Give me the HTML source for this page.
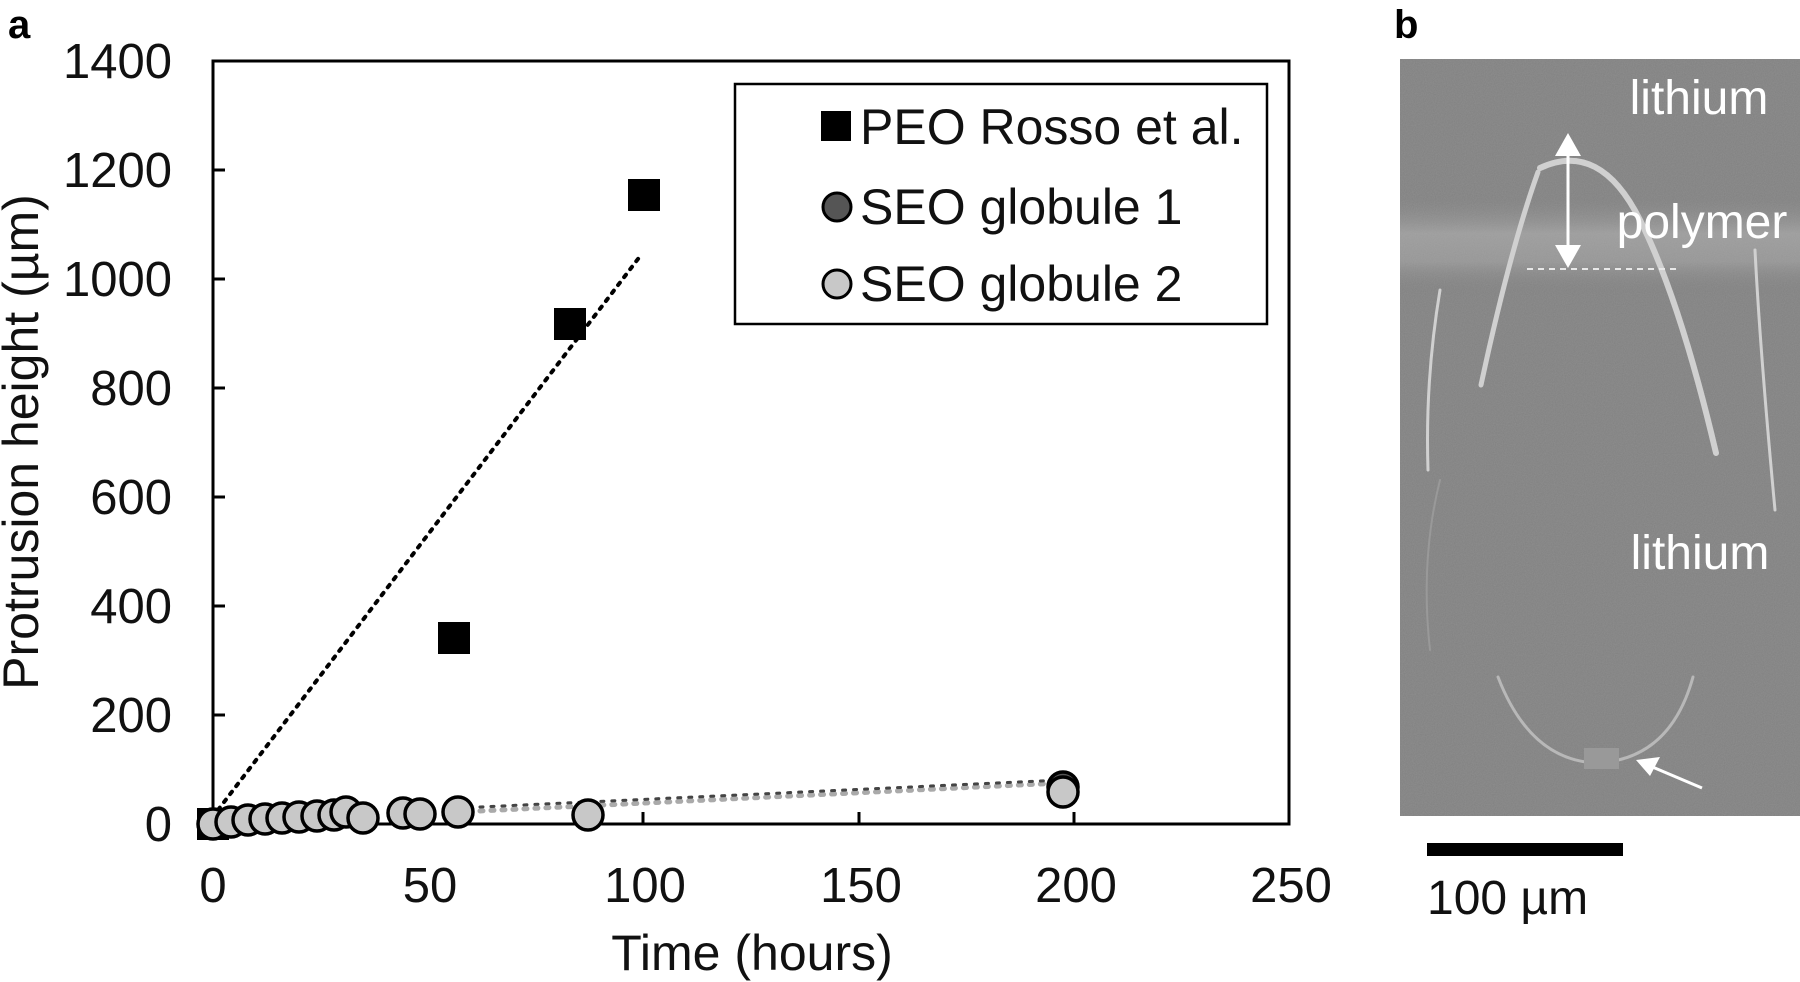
<!DOCTYPE html>
<html><head><meta charset="utf-8"><style>
html,body{margin:0;padding:0;background:#fff;}
svg{display:block;}
text{font-family:"Liberation Sans",sans-serif;}
</style></head><body>
<svg width="1800" height="982" viewBox="0 0 1800 982" xmlns="http://www.w3.org/2000/svg">
<text x="8" y="38" font-size="40" font-weight="bold">a</text>
<text x="1394" y="38" font-size="40" font-weight="bold">b</text>

<rect x="213" y="61" width="1076" height="763" fill="none" stroke="#000" stroke-width="3"/>
<g stroke="#000" stroke-width="3">
<line x1="428" y1="824" x2="428" y2="812"/>
<line x1="643" y1="824" x2="643" y2="812"/>
<line x1="859" y1="824" x2="859" y2="812"/>
<line x1="1074" y1="824" x2="1074" y2="812"/>
<line x1="213" y1="715" x2="225" y2="715"/>
<line x1="213" y1="606" x2="225" y2="606"/>
<line x1="213" y1="497" x2="225" y2="497"/>
<line x1="213" y1="388" x2="225" y2="388"/>
<line x1="213" y1="279" x2="225" y2="279"/>
<line x1="213" y1="170" x2="225" y2="170"/>
</g>
<g font-size="49" text-anchor="end" fill="#111">
<text x="172" y="841">0</text>
<text x="172" y="732">200</text>
<text x="172" y="623">400</text>
<text x="172" y="514">600</text>
<text x="172" y="405">800</text>
<text x="172" y="296">1000</text>
<text x="172" y="187">1200</text>
<text x="172" y="78">1400</text>
</g>
<g font-size="49" text-anchor="middle" fill="#111">
<text x="213" y="902">0</text>
<text x="430" y="902">50</text>
<text x="645" y="902">100</text>
<text x="861" y="902">150</text>
<text x="1076" y="902">200</text>
<text x="1291" y="902">250</text>
</g>
<text x="752" y="970" font-size="50" text-anchor="middle" fill="#111">Time (hours)</text>
<text transform="translate(38,442) rotate(-90)" font-size="50" text-anchor="middle" fill="#111">Protrusion height (µm)</text>

<line x1="218" y1="810" x2="641" y2="255" stroke="#000" stroke-width="4" stroke-dasharray="3,7" stroke-linecap="round"/>
<line x1="458" y1="812" x2="1061" y2="783" stroke="#aaa" stroke-width="5" stroke-dasharray="3,8" stroke-linecap="round"/>
<line x1="458" y1="808" x2="1061" y2="780" stroke="#444" stroke-width="3" stroke-dasharray="3,8" stroke-linecap="round"/>

<g fill="#000">
<rect x="438" y="622" width="32" height="32"/>
<rect x="554" y="308" width="32" height="32"/>
<rect x="628" y="179" width="32" height="32"/>
<rect x="197" y="808" width="32" height="32"/>
</g>
<g stroke="#000" stroke-width="3.5">
<circle cx="1063" cy="787" r="15" fill="#555"/>
<circle cx="213" cy="824" r="15" fill="#c8c8c8"/>
<circle cx="231" cy="822" r="15" fill="#c8c8c8"/>
<circle cx="248" cy="820" r="15" fill="#c8c8c8"/>
<circle cx="265" cy="819" r="15" fill="#c8c8c8"/>
<circle cx="282" cy="818" r="15" fill="#c8c8c8"/>
<circle cx="299" cy="817" r="15" fill="#c8c8c8"/>
<circle cx="317" cy="816" r="15" fill="#c8c8c8"/>
<circle cx="334" cy="815" r="15" fill="#c8c8c8"/>
<circle cx="346" cy="812" r="15" fill="#c8c8c8"/>
<circle cx="363" cy="818" r="15" fill="#c8c8c8"/>
<circle cx="403" cy="813" r="15" fill="#c8c8c8"/>
<circle cx="420" cy="814" r="15" fill="#c8c8c8"/>
<circle cx="458" cy="812" r="15" fill="#c8c8c8"/>
<circle cx="588" cy="815" r="15" fill="#c8c8c8"/>
<circle cx="1063" cy="792" r="15" fill="#c8c8c8"/>
</g>

<rect x="735" y="84" width="532" height="240" fill="#fff" stroke="#000" stroke-width="2.5"/>
<rect x="821" y="111" width="30" height="30" fill="#000"/>
<circle cx="837" cy="207" r="14" fill="#555" stroke="#000" stroke-width="3"/>
<circle cx="837" cy="284" r="14" fill="#c8c8c8" stroke="#000" stroke-width="3"/>
<g font-size="50" fill="#111">
<text x="860" y="144">PEO Rosso et al.</text>
<text x="860" y="224">SEO globule 1</text>
<text x="860" y="301">SEO globule 2</text>
</g>

<defs>
<filter id="noise" x="0" y="0" width="100%" height="100%">
<feTurbulence type="fractalNoise" baseFrequency="0.9" numOctaves="2" result="n"/>
<feColorMatrix type="matrix" values="0 0 0 0 0.5  0 0 0 0 0.5  0 0 0 0 0.5  0 0 0 0.25 0"/>
</filter>
<linearGradient id="band" x1="0" y1="0" x2="0" y2="1">
<stop offset="0" stop-color="#8a8a8a" stop-opacity="0"/>
<stop offset="0.35" stop-color="#9c9c9c"/>
<stop offset="0.65" stop-color="#959595"/>
<stop offset="1" stop-color="#7a7a7a" stop-opacity="0"/>
</linearGradient>
</defs>
<rect x="1400" y="59" width="400" height="757" fill="#808080"/>
<rect x="1400" y="200" width="400" height="95" fill="url(#band)"/>
<rect x="1400" y="59" width="400" height="757" filter="url(#noise)"/>
<g fill="none" stroke="#d0d0d0" stroke-linecap="round">
<path d="M1481 385 Q1510 250 1538 172" stroke-width="5"/>
<path d="M1540 168 Q1600 140 1640 220 Q1680 300 1716 453" stroke-width="6"/>
<path d="M1755 250 Q1760 350 1775 510" stroke-width="3"/>
<path d="M1440 290 Q1425 380 1428 470" stroke-width="3"/>
<path d="M1498 677 Q1530 760 1596 763 Q1670 760 1693 677" stroke-width="3" stroke="#b8b8b8"/>
<path d="M1440 480 Q1420 560 1430 650" stroke-width="2" stroke="#999"/>
</g>
<rect x="1584" y="748" width="35" height="21" fill="#999"/>
<line x1="1527" y1="269" x2="1676" y2="269" stroke="#e8e8e8" stroke-width="2" stroke-dasharray="6,5"/>
<line x1="1568" y1="145" x2="1568" y2="255" stroke="#fff" stroke-width="3"/>
<polygon points="1568,133 1555,156 1581,156" fill="#fff"/>
<polygon points="1568,268 1555,245 1581,245" fill="#fff"/>
<line x1="1702" y1="788" x2="1650" y2="766" stroke="#fff" stroke-width="3"/>
<polygon points="1636,760 1660,757 1650,776" fill="#fff"/>
<g font-size="48" fill="#fff" text-anchor="middle">
<text x="1699" y="114">lithium</text>
<text x="1702" y="238">polymer</text>
<text x="1700" y="569">lithium</text>
</g>
<rect x="1427" y="843" width="196" height="13" fill="#000"/>
<text x="1427" y="914" font-size="48" fill="#111">100 µm</text>
</svg>
</body></html>
